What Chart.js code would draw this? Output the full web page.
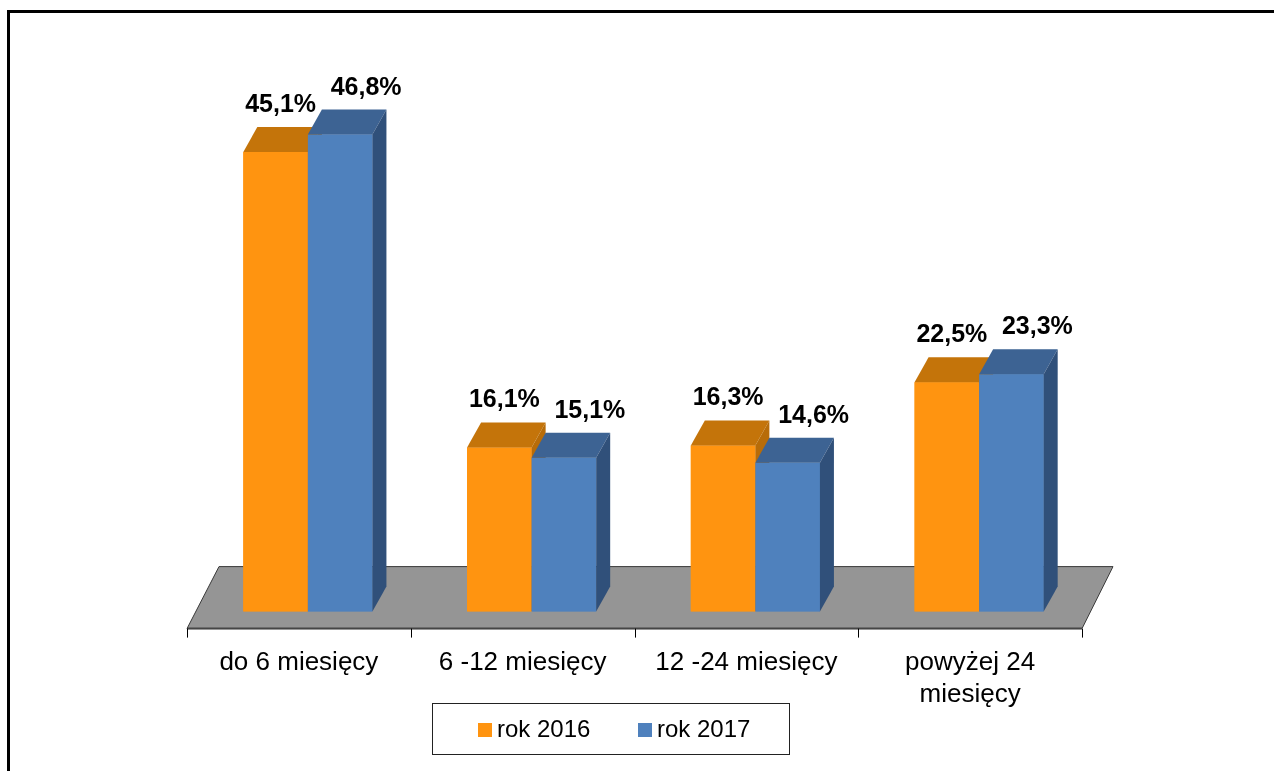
<!DOCTYPE html>
<html>
<head>
<meta charset="utf-8">
<script src="https://cdn.jsdelivr.net/npm/chart.js@4.4.0/dist/chart.umd.min.js"></script>
<style>
html, body { margin: 0; padding: 0; background: #fff; overflow: hidden; }
#frame { position: absolute; left: 7px; top: 10px; width: 1300px; height: 800px; border-top: 3px solid #000; border-left: 3px solid #000; }
#wrap { position: absolute; left: 0; top: 0; width: 1274px; height: 771px; }
</style>
</head>
<body>
<div id="frame"></div>
<div id="wrap"><canvas id="chart" width="1274" height="771"></canvas></div>
<script>
// データ
const categories = ['do 6 miesięcy', '6 -12 miesięcy', '12 -24 miesięcy', ['powyżej 24', 'miesięcy']];
const series_labels = ['rok 2016', 'rok 2017'];
const values_2016 = [45.1, 16.1, 16.3, 22.5];
const values_2017 = [46.8, 15.1, 14.6, 23.3];

// 色 (前面 / 上面 / 側面)
const colors_2016 = ['#ff9410', '#c4740a', '#b86c08'];
const colors_2017 = ['#4f81bd', '#3d6393', '#30507a'];

const FONT = "'Liberation Sans', Arial, sans-serif";
// 奥行き
const DX = 14, DY = -25;

// 床・目盛り・3D の面・ラベル・凡例を描くプラグイン
const bar3d = {
    id: 'bar3d',
    beforeDatasetsDraw(chart) {
        const ctx = chart.ctx;
        const a = chart.chartArea;
        const fy = a.bottom + 17, by = a.bottom - 45;
        const fl = a.left - 9, fr = a.right - 9;
        ctx.save();
        // 床
        ctx.fillStyle = '#959595';
        ctx.strokeStyle = '#3a3a3a';
        ctx.lineWidth = 1;
        ctx.beginPath();
        ctx.moveTo(fl, fy);
        ctx.lineTo(fl + 32, by);
        ctx.lineTo(fr + 31, by);
        ctx.lineTo(fr, fy);
        ctx.closePath();
        ctx.fill();
        ctx.stroke();
        ctx.lineWidth = 2;
        ctx.strokeStyle = '#454545';
        ctx.beginPath();
        ctx.moveTo(fl, fy);
        ctx.lineTo(fr, fy);
        ctx.stroke();
        // 目盛り
        ctx.lineWidth = 1;
        ctx.strokeStyle = '#000';
        const n = categories.length;
        for (let i = 0; i <= n; i++) {
            const tx = Math.round(fl + i * (fr - fl) / n) + 0.5;
            ctx.beginPath();
            ctx.moveTo(tx, fy);
            ctx.lineTo(tx, fy + 9);
            ctx.stroke();
        }
        ctx.restore();
    },
    afterDatasetsDraw(chart) {
        const ctx = chart.ctx;
        ctx.save();
        // 左の系列から順に前面・上面・側面を描き直す
        chart.data.datasets.forEach((ds, di) => {
            const c = di === 0 ? colors_2016 : colors_2017;
            chart.getDatasetMeta(di).data.forEach(bar => {
                bar.draw(ctx, chart.chartArea);
                const p = bar.getProps(['x', 'y', 'base', 'width'], true);
                const l = p.x - p.width / 2, r = p.x + p.width / 2;
                // 上面
                ctx.fillStyle = c[1];
                ctx.beginPath();
                ctx.moveTo(l, p.y);
                ctx.lineTo(l + DX, p.y + DY);
                ctx.lineTo(r + DX, p.y + DY);
                ctx.lineTo(r, p.y);
                ctx.closePath();
                ctx.fill();
                // 側面
                ctx.fillStyle = c[2];
                ctx.beginPath();
                ctx.moveTo(r, p.y);
                ctx.lineTo(r + DX, p.y + DY);
                ctx.lineTo(r + DX, p.base + DY);
                ctx.lineTo(r, p.base);
                ctx.closePath();
                ctx.fill();
            });
        });
        // データラベル
        ctx.font = 'bold 25px ' + FONT;
        ctx.fillStyle = '#000';
        ctx.textAlign = 'center';
        ctx.textBaseline = 'middle';
        chart.data.datasets.forEach((ds, di) => {
            const meta = chart.getDatasetMeta(di);
            meta.data.forEach((bar, i) => {
                const text = ds.data[i].toFixed(1).replace('.', ',') + '%';
                const off = di === 0 ? 5 : 26;
                ctx.fillText(text, bar.x + off, bar.y - 47);
            });
        });
        // 凡例
        ctx.strokeStyle = '#222';
        ctx.lineWidth = 1;
        ctx.strokeRect(432.5, 703.5, 357, 51);
        ctx.font = '24px ' + FONT;
        ctx.textAlign = 'left';
        const lx = [478, 638];
        chart.data.datasets.forEach((ds, di) => {
            ctx.fillStyle = ds.backgroundColor;
            ctx.fillRect(lx[di], 723, 14, 14);
            ctx.fillStyle = '#000';
            ctx.fillText(ds.label, lx[di] + 19, 730);
        });
        ctx.restore();
    }
};

const ctx = document.getElementById('chart').getContext('2d');
new Chart(ctx, {
    type: 'bar',
    data: {
        labels: categories,
        datasets: [
            { label: series_labels[0], data: values_2016, backgroundColor: colors_2016[0] },
            { label: series_labels[1], data: values_2017, backgroundColor: colors_2017[0] }
        ]
    },
    options: {
        responsive: false,
        animation: false,
        layout: { padding: { left: 196, right: 183, top: 102, bottom: 25 } },
        datasets: { bar: { categoryPercentage: 0.577, barPercentage: 1 } },
        scales: {
            x: {
                grid: { display: false, drawTicks: false },
                border: { display: false },
                ticks: {
                    color: '#000',
                    font: { size: 26, family: FONT },
                    padding: 36,
                    labelOffset: -9,
                    maxRotation: 0,
                    autoSkip: false
                }
            },
            y: { display: false, min: 0, max: 50 }
        },
        plugins: {
            legend: { display: false },
            tooltip: { enabled: false }
        }
    },
    plugins: [bar3d]
});
</script>
</body>
</html>
